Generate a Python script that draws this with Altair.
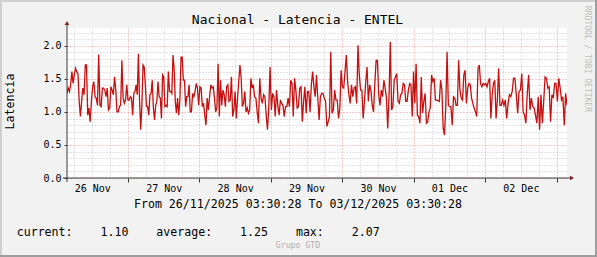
import altair as alt
import pandas as pd
from datetime import datetime, timedelta, timezone

# ---------------- data ----------------
TITLE = "Nacional - Latencia - ENTEL"
Y_TITLE = "Latencia"
START = datetime(2025, 11, 26, 3, 30, 28, tzinfo=timezone.utc)
END = datetime(2025, 12, 3, 3, 30, 28, tzinfo=timezone.utc)

# latency samples, in consecutive stretches of the time axis
seg1 = [1.28, 1.36, 1.31, 1.41, 1.61, 1.43, 1.56, 1.66, 1.61, 1.58, 1.16, 0.93, 1.16, 1.36, 1.26, 1.71, 1.71,
        0.95, 1.06, 0.85, 1.16, 1.38, 1.46, 1.23, 1.21, 1.10, 1.87, 1.10, 1.08, 1.36, 1.36, 1.33, 1.23, 1.36,
        1.03, 1.06, 1.38, 1.33, 1.26, 1.53, 1.33, 1.00, 1.00, 1.08, 1.10, 1.78, 1.21, 1.13, 1.18, 1.41, 1.18]
seg2 = [1.18, 1.23, 1.21, 0.95, 1.28, 1.31, 1.41, 1.26, 1.88, 1.16, 0.73, 1.10, 1.71, 1.68, 1.41, 1.08, 1.08,
        0.95, 1.26, 1.28, 1.48, 1.06, 0.88, 1.10, 1.16, 1.46, 1.23, 1.21, 0.90, 1.56, 1.53, 1.08, 1.10, 1.08,
        1.61, 1.31, 1.31, 1.28, 1.86, 1.66, 1.16, 0.98, 1.21, 0.95, 1.18, 1.83, 1.83, 1.48, 1.48, 1.08, 1.23,
        1.23, 1.41, 1.00]
seg3 = [1.00, 1.28, 1.23, 1.31, 1.43, 1.36, 1.10, 1.38, 1.36, 1.08, 1.13, 0.95, 0.80, 1.21, 1.03, 1.23, 1.41,
        1.36, 1.38, 1.21, 1.00, 1.06, 1.73, 0.93, 1.48, 1.10, 1.33, 1.26, 1.08, 1.38, 1.41, 1.16, 1.18, 1.53,
        0.93, 1.03, 1.31, 0.90, 1.21, 1.46, 1.71, 1.51, 1.08, 1.13, 1.31, 1.00, 1.06, 0.98, 1.03, 1.51, 1.36]
seg4 = [1.41, 1.23, 1.21, 1.00, 0.83, 1.51, 1.21, 1.13, 1.26, 1.23, 0.95, 0.73, 1.08, 1.68, 1.03, 1.28, 1.23,
        0.93, 1.33, 1.10, 0.95, 1.18, 1.13, 1.10, 0.93, 1.08, 1.08, 1.21, 1.08, 1.48, 1.43, 0.93, 1.51, 1.33,
        1.06, 1.08, 1.36, 1.38, 0.85, 1.16, 1.38, 0.98, 1.31, 1.31, 1.00, 1.41, 1.61, 1.38]
seg5 = [1.23, 1.56, 1.21, 0.88, 1.23, 1.28, 1.28, 1.21, 1.16, 0.78, 0.85, 0.93, 1.91, 0.98, 1.03, 1.33, 1.18,
        1.18, 0.90, 1.06, 1.63, 1.38, 1.36, 1.61, 1.86, 1.46, 1.26, 1.13, 1.41, 1.23, 1.36, 1.38, 1.13, 2.01,
        1.56, 1.33, 1.33, 0.90, 1.16, 1.46, 1.68, 1.16, 1.41, 1.33, 1.10, 1.00, 1.43, 1.78]
seg6 = [1.78, 1.26, 1.10, 1.33, 1.23, 1.48, 1.36, 1.21, 0.75, 1.23, 2.06, 1.03, 1.08, 1.48, 1.53, 1.58, 1.16,
        1.13, 1.26, 1.28, 1.43, 1.41, 1.16, 1.16, 1.33, 1.43, 1.41, 0.93, 1.61, 1.13, 1.73, 0.95, 0.93, 0.83,
        1.53, 0.98, 1.16, 1.28, 0.83, 0.85, 1.00, 1.06, 1.56, 1.46, 1.51, 1.18, 1.18, 1.17]
seg7 = [1.16, 1.48, 1.33, 0.75, 0.65, 1.08, 1.91, 1.10, 1.08, 1.08, 0.80, 1.23, 1.21, 1.10, 1.10, 1.78, 1.33,
        1.21, 1.18, 1.56, 1.63, 1.13, 1.36, 1.43, 1.41, 1.21, 1.13, 1.06, 1.00, 0.93, 1.66, 1.71, 1.43, 1.38,
        1.43, 1.41, 1.43, 1.38, 1.46, 1.51, 0.90, 1.26, 1.43, 1.48, 0.90, 1.18, 1.66, 1.10]
seg8 = [1.10, 1.18, 1.10, 1.18, 0.90, 1.13, 1.26, 1.23, 1.31, 1.51, 1.51, 1.26, 0.98, 1.31, 1.33, 1.58, 1.00,
        0.95, 0.83, 1.28, 1.56, 1.03, 1.21, 1.08, 1.06, 0.95, 0.83, 1.23, 0.73, 1.26, 0.83, 1.16, 1.53, 1.51,
        1.36, 1.38, 0.85, 1.26, 1.21, 1.43, 1.43, 1.16, 1.51, 1.36, 1.18, 1.23, 0.80, 1.28, 1.10]
segments = [seg1, seg2, seg3, seg4, seg5, seg6, seg7, seg8]
# hours after START at which each stretch begins (last entry = end of the range)
segment_start_hours = [0.0, 20.9, 41.8, 62.6, 83.4, 104.3, 125.1, 145.9, 168.0]

legend_names = ["current:", "average:", "max:"]
legend_values = [1.10, 1.25, 2.07]
FOOTER = "Grupo GTD"
WATERMARK = "RRDTOOL / TOBI OETIKER"
Y_MAX = 2.27

# ---------------- build table ----------------
start_ms = START.timestamp() * 1000
end_ms = END.timestamp() * 1000
H = 3600 * 1000
rows_t, rows_v = [], []
for k, seg in enumerate(segments):
    a, b = segment_start_hours[k], segment_start_hours[k + 1]
    n = len(seg)
    den = n - 1 if k == len(segments) - 1 else n
    for i, v in enumerate(seg):
        rows_t.append(start_ms + (a + (b - a) * i / den) * H)
        rows_v.append(v)
df = pd.DataFrame({"t": rows_t, "v": rows_v})

# grid / tick positions every 6 hours
xvals = []
g = datetime(2025, 11, 26, 6, 0, 0, tzinfo=timezone.utc)
while g <= END:
    xvals.append(g.timestamp() * 1000)
    g += timedelta(hours=6)
yvals = [round(i * 0.1, 1) for i in range(0, 23)]

FONT = "DejaVu Sans Mono"
GRID = "#8f8f8f"
MGRID = "#de4f4f"
AXIS = "#3a3a3a"
ARROW = "#801f1f"

x_major = "utchours(datum.value) == 0"
y_major = "abs(datum.value * 2 - round(datum.value * 2)) < 0.001"

x_axis = alt.Axis(
    values=xvals, title=None, grid=True, zindex=0,
    gridColor={"condition": {"test": x_major, "value": MGRID}, "value": GRID},
    gridOpacity={"condition": {"test": x_major, "value": 0.6}, "value": 0.5},
    gridDash=[1, 2],
    labelExpr="utchours(datum.value) == 12 ? utcFormat(datum.value, '%d %b') : ''",
    labelFont=FONT, labelFontSize=10, labelColor="black", labelPadding=1,
    labelOverlap=False, labelFlush=False,
    tickColor=AXIS, tickSize=4,
    tickOpacity={"condition": {"test": x_major, "value": 1}, "value": 0},
    domain=False,
)
y_axis = alt.Axis(
    values=yvals, title=None, grid=True, zindex=0,
    gridColor={"condition": {"test": y_major, "value": MGRID}, "value": GRID},
    gridOpacity={"condition": {"test": y_major, "value": 0.6}, "value": 0.5},
    gridDash=[1, 2],
    labelExpr=y_major + " ? format(datum.value, '.1f') : ''",
    labelFont=FONT, labelFontSize=10, labelColor="black", labelPadding=3,
    labelOverlap=False, labelFlush=False,
    tickColor=AXIS, tickSize=3,
    tickOpacity={"condition": {"test": y_major, "value": 1}, "value": 0},
    domain=False,
)

PW, PH = 500, 150
PAD = {"left": 67, "top": 28, "right": 30, "bottom": 79}

line = alt.Chart(df).mark_line(color="#c41010", strokeWidth=1.3, clip=True).encode(
    x=alt.X("t:T", scale=alt.Scale(type="utc", domain=[start_ms, end_ms], nice=False), axis=x_axis),
    y=alt.Y("v:Q", scale=alt.Scale(domain=[0, Y_MAX], nice=False, zero=True), axis=y_axis),
)

one = pd.DataFrame({"k": [0]})

def rule(x, y, x2=None, y2=None, color=AXIS, w=1):
    enc = {"x": alt.value(x), "y": alt.value(y)}
    if x2 is not None:
        enc["x2"] = alt.value(x2)
    if y2 is not None:
        enc["y2"] = alt.value(y2)
    return alt.Chart(one).mark_rule(color=color, strokeWidth=w).encode(**enc)

TW = PW + PAD["left"] + PAD["right"]
TH = PH + PAD["top"] + PAD["bottom"]
L, T = -PAD["left"], -PAD["top"]
frame = [
    rule(L, T + 1, x2=L + TW, color="#cfcfcf", w=2),
    rule(L + 1, T, y2=T + TH, color="#cfcfcf", w=2),
    rule(L, T + TH - 1, x2=L + TW, color="#9e9e9e", w=2),
    rule(L + TW - 1, T, y2=T + TH, color="#9e9e9e", w=2),
]
axes = [
    rule(0, -4, y2=PH + 4),
    rule(-4, PH, x2=PW + 4),
]
arrows = [
    alt.Chart(one).mark_point(shape="triangle-up", filled=True, color=ARROW, size=22, opacity=1)
    .encode(x=alt.value(0), y=alt.value(-5)),
    alt.Chart(one).mark_point(shape="triangle-right", filled=True, color=ARROW, size=22, opacity=1)
    .encode(x=alt.value(PW + 5), y=alt.value(PH)),
]

def text(s, x, y, size, color="black", align="center", baseline="alphabetic", angle=0):
    kw = dict(text=s, font=FONT, fontSize=size, color=color, align=align, baseline=baseline)
    if angle:
        kw["angle"] = angle
    return alt.Chart(one).mark_text(**kw).encode(x=alt.value(x), y=alt.value(y))

NB = "\u00a0"
legend_str = (NB * 4).join(f"{n}{NB * 4}{v:.2f}" for n, v in zip(legend_names, legend_values))
period_str = f"From {START:%d/%m/%Y %H:%M:%S} To {END:%d/%m/%Y %H:%M:%S}".replace(" ", NB)

texts = [
    text(TITLE.replace(" ", NB), 230.5, -4, 13),
    text(Y_TITLE, -56.2, 73.5, 11.6, baseline="middle", angle=270),
    text(WATERMARK.replace(" ", NB), 519.5, 31, 8, color="#bdbdbd", baseline="middle", angle=90),
    text(period_str, 231, 180.3, 11.6),
    text(legend_str, -50.3, 208, 11.6, align="left"),
    text(FOOTER.replace(" ", NB), 231, 220, 8.2, color="#b0b0b0"),
]

chart = alt.layer(*frame, line, *axes, *arrows, *texts).properties(
    width=PW, height=PH, padding=PAD, autosize="none", background="#f2f2f2",
).configure_view(fill="white", stroke=None)

chart.save("out.html", embed_options={"renderer": "svg", "actions": False})
